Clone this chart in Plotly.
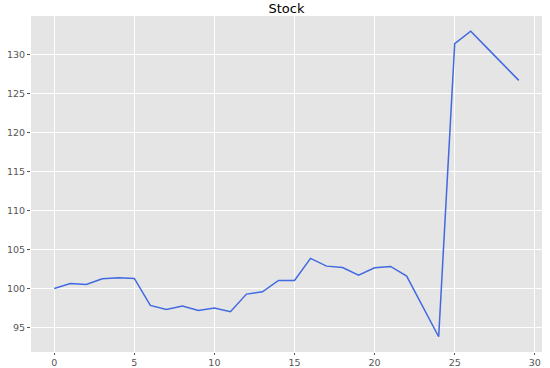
import plotly.graph_objects as go

# stock price by day
days = list(range(30))
price = [100.0, 100.64, 100.51, 101.23, 101.36, 101.28, 97.82, 97.31, 97.73, 97.18,
         97.47, 97.0, 99.27, 99.56, 101.03, 101.03, 103.85, 102.86, 102.69, 101.7,
         102.64, 102.82, 101.58, 97.7, 93.8, 131.4, 133.0, 130.9, 128.8, 126.7]

fig = go.Figure(
    go.Scatter(
        x=days,
        y=price,
        mode="lines",
        line=dict(color="#4169E1", width=1.5),
        showlegend=False,
    )
)

axis_style = dict(
    showgrid=True,
    gridcolor="white",
    gridwidth=1,
    zeroline=False,
    ticks="outside",
    tickcolor="#555555",
    tickfont=dict(family="DejaVu Sans", size=9.5, color="#555555"),
    showline=False,
    automargin=False,
)

fig.update_xaxes(range=[-1.45, 30.45], tickvals=[0, 5, 10, 15, 20, 25, 30], ticklen=2, **axis_style)
fig.update_yaxes(range=[91.84, 134.96], tickvals=[95, 100, 105, 110, 115, 120, 125, 130], ticklen=3, **axis_style)

fig.update_layout(
    width=550,
    height=368,
    title=dict(text="Stock", xref="paper", x=0.5, xanchor="center",
               yref="container", y=0.99, yanchor="top",
               font=dict(family="DejaVu Sans", size=13, color="black")),
    plot_bgcolor="#E5E5E5",
    paper_bgcolor="white",
    margin=dict(l=31, r=8, t=16, b=16),
)

# drop the default page margin so the figure sits at the window corner
fig.write_html("out.html", config={"displayModeBar": False},
               post_script="document.body.style.margin='0';")
